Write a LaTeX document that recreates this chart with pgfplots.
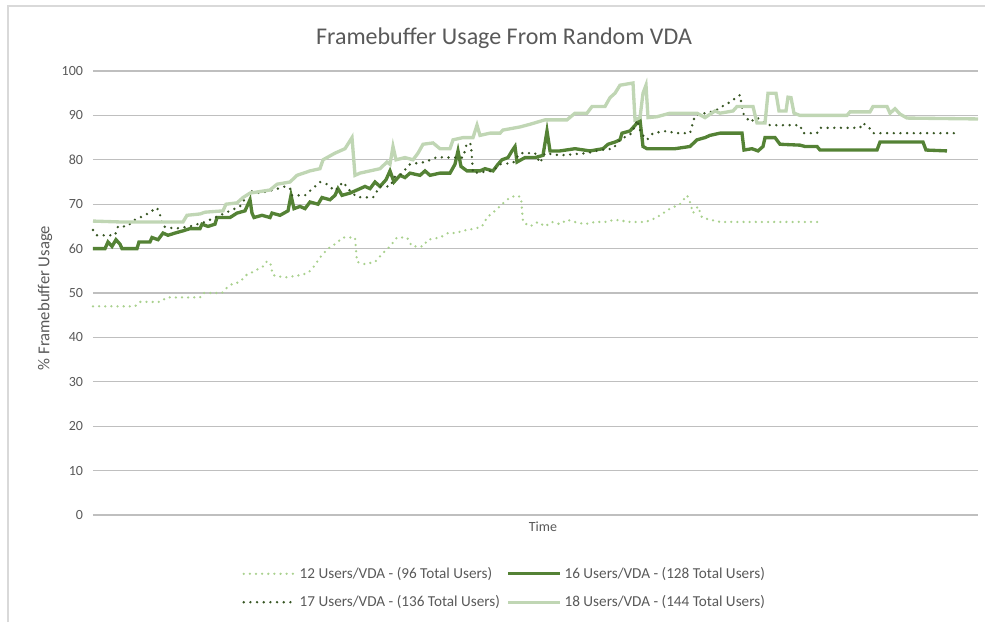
\documentclass[border=0pt]{standalone}
\usepackage{fontspec}
\setmainfont{Carlito}
\usepackage{pgfplots}
\pgfplotsset{compat=1.18}
\definecolor{txt}{HTML}{595959}
\definecolor{grid}{HTML}{D9D9D9}
\definecolor{cA}{HTML}{A9D18E}
\definecolor{cB}{HTML}{548235}
\definecolor{cC}{HTML}{375623}
\definecolor{cD}{HTML}{C0D6B4}
\begin{document}
\begin{tikzpicture}
\begin{axis}[
  scale only axis, width=663.75pt, height=333pt,
  xmin=93, xmax=978, ymin=0, ymax=100,
  axis line style={draw=none},
  xtick=\empty, ytick={0,10,...,100},
  ymajorgrids, grid style={grid, line width=0.8pt},
  major tick length=0pt,
  tick label style={font=\fontsize{10.5}{12}\selectfont, text=txt},
  /pgf/number format/assume math mode=true,
  yticklabel style={xshift=-4pt},
  clip=false,
  legend columns=2,
  legend style={draw=none, fill=none, at={(0.4655,-0.105)}, anchor=north,
    font=\fontsize{11.4}{13.5}\selectfont, text=txt,
    /tikz/every even column/.append style={column sep=3pt},
    row sep=7.5pt},
  legend cell align=left,
  legend image code/.code={\draw[#1] (0pt,0pt) -- (39pt,0pt);},
]
\addplot[cA, line width=1.9pt, line cap=round, dash pattern=on 0pt off 4.6pt] coordinates {
(93,47)(135,47)(140,48)(160,48)(167,49)(200,49)(203,50)(222,50)(226,51)(232,52)(240,52.5)(246,54)(255,55)(263,56)(266,57)(270,57)(273,54)(285,53.5)(300,54)(308,54.5)(314,56)(320,58)(328,60)(335,61)(343,62.5)(355,62.5)(357,57)(365,56.5)(375,57)(383,59)(390,60.5)(397,62.5)(407,62.5)(412,60.5)(423,60.5)(428,62)(440,62.5)(448,63.5)(457,63.5)(462,64)(475,64.5)(482,65)(487,67)(495,68.5)(502,70)(510,71.5)(517,72)(521,71.5)(523,66)(530,65)(538,66)(545,65)(552,66)(560,65.5)(567,66.5)(575,66)(585,65.5)(595,66)(605,66)(615,66.5)(630,66)(645,66)(652,66.5)(660,67.5)(670,69)(680,70)(687,72)(690,70.5)(693,68)(698,69.5)(702,67)(710,66.5)(720,66)(820,66)};
\addlegendentry{12 Users/VDA - (96 Total Users)}
\addplot[cB, line width=2.5pt] coordinates {
(93,60)(105,60)(108,61.5)(112,60.5)(116,62)(120,61)(122,60)(137,60)(139,61.5)(150,61.5)(152,62.5)(158,62)(163,63.5)(168,63)(175,63.5)(183,64)(190,64.5)(200,64.5)(202,65.5)(208,65)(215,65.5)(217,67)(230,67)(237,68)(245,68.5)(248,70)(250,71)(252,68)(254,67)(262,67.5)(270,67)(272,68)(280,67.5)(288,68.5)(291,72)(294,69)(300,69.5)(305,69)(310,70.5)(318,70)(322,71.5)(330,71)(335,72)(338,73.5)(342,72)(350,72.5)(355,73)(360,73.5)(365,74)(370,73.5)(375,75)(380,74)(386,75.5)(390,77.5)(394,75)(400,76.5)(405,76)(410,77)(420,76.5)(425,77.5)(430,76.5)(440,77)(450,77)(455,79)(458,82)(461,78.5)(467,77.5)(480,77.5)(485,78)(493,77.5)(498,79)(502,80)(508,80.5)(512,82)(515,83)(517,79.5)(525,80.5)(535,80.5)(543,81)(547,86.5)(550,82)(560,82)(575,82.5)(590,82)(603,82.5)(608,83.5)(615,84)(620,84.5)(622,86)(630,86.5)(636,88)(640,89)(643,83)(647,82.5)(660,82.5)(675,82.5)(690,83)(697,84.5)(705,85)(710,85.5)(720,86)(742,86)(744,82.2)(752,82.5)(758,82)(763,83)(765,85)(775,85)(780,83.5)(800,83.3)(805,83)(817,83)(820,82.2)(877,82.2)(880,84)(923,84)(926,82.2)(947,82)};
\addlegendentry{16 Users/VDA - (128 Total Users)}
\addplot[cC, line width=2pt, line cap=round, dash pattern=on 0pt off 5pt] coordinates {
(93,64.2)(97,63)(115,63)(118,65)(127,65)(135,66.5)(145,67.5)(152,68.5)(157,69.2)(160,67.6)(163,65)(175,64.5)(190,65)(205,66)(220,67.5)(240,69.5)(250,73)(260,72.5)(273,73.2)(285,74)(288,75)(292,72)(305,72)(320,75)(327,74.5)(335,73)(343,75)(350,73)(357,71.6)(373,71.5)(380,74)(390,74)(395,76.2)(400,76.5)(410,79)(425,79.5)(437,80.6)(453,80.5)(463,80.5)(467,83.8)(471,83.5)(473,77)(493,77.5)(500,79)(513,79.3)(520,81.5)(535,81.5)(540,79.3)(545,81.5)(560,81)(587,81.5)(600,82.2)(613,82.5)(620,84.5)(632,86)(637,89)(641,86)(647,84.5)(653,86)(667,86.5)(675,86)(690,86)(695,90)(705,90.5)(715,91)(722,92)(730,93)(740,94.6)(743,90.5)(750,88.5)(757,89.5)(763,88.5)(770,87.8)(800,87.8)(803,86)(817,86)(820,87.2)(860,87.2)(863,88.3)(870,87)(873,86)(957,86)};
\addlegendentry{17 Users/VDA - (136 Total Users)}
\addplot[cD, line width=2.5pt] coordinates {
(93,66.2)(120,66)(183,66)(187,67.5)(200,67.8)(205,68.2)(223,68.5)(226,70)(237,70.3)(243,71.5)(250,72.5)(270,73.2)(277,74.5)(290,75)(297,76.5)(310,77.5)(320,78)(323,80)(335,81.5)(345,82.5)(352,85)(355,76.5)(360,77)(370,77.5)(380,78)(387,79.5)(390,79)(393,83)(396,80)(405,80.5)(413,80)(418,81.5)(423,83.5)(433,83.8)(440,82.5)(450,82.5)(453,84.5)(463,85)(473,85)(477,87.8)(480,85.5)(490,86)(500,86)(503,86.7)(520,87.4)(530,88)(545,89)(567,89)(575,90.5)(587,90.5)(592,92)(605,92)(610,94)(615,95)(620,96.8)(633,97.3)(635,89)(640,89.5)(643,95)(646,96.8)(648,89.5)(657,89.7)(670,90.5)(697,90.5)(705,89.5)(715,91)(720,90.5)(733,91)(737,92)(753,92)(757,88.3)(765,88.3)(768,95)(776,95)(779,91)(786,91)(788,94.1)(791,94)(794,90.5)(800,90)(847,90)(850,90.8)(870,90.8)(873,92)(887,92)(890,90.5)(895,91.5)(900,90.3)(907,89.4)(978,89.2)};
\addlegendentry{18 Users/VDA - (144 Total Users)}
\coordinate (SW) at (rel axis cs:0,0);
\coordinate (NE) at (rel axis cs:1,1);
\end{axis}
\node[font=\fontsize{18}{20}\selectfont, text=txt] at ([shift={(308.25pt,24.75pt)}]SW |- NE) {Framebuffer Usage From Random VDA};
\node[font=\fontsize{10.5}{12}\selectfont, text=txt] at ([shift={(337.5pt,-9pt)}]SW) {Time};
\node[font=\fontsize{12.5}{14}\selectfont, text=txt, rotate=90] at ([shift={(-36pt,162.75pt)}]SW) {\% Framebuffer Usage};
\draw[grid, line width=0.8pt] ([shift={(-63.75pt,-80.25pt)}]SW) -- ([shift={(-63.75pt,48.75pt)}]SW |- NE) -- ([shift={(5.25pt,48.75pt)}]NE);
\pgfresetboundingbox
\path ([shift={(-69.75pt,-80.25pt)}]SW) rectangle ([shift={(5.25pt,53.25pt)}]NE);
\end{tikzpicture}
\end{document}
